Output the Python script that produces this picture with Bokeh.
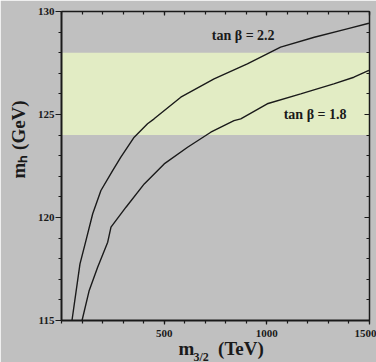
from bokeh.plotting import figure
from bokeh.models import (Range1d, FixedTicker, LinearAxis, BoxAnnotation, Label, Title)
from bokeh.embed import file_html
from bokeh.resources import INLINE

# ---- data ----
x_tb22 = [51, 90, 119, 152, 192, 249, 289, 354, 419, 451, 581, 743, 905, 1067, 1231, 1391, 1497]
y_tb22 = [115.0, 117.75, 118.88, 120.18, 121.31, 122.28, 122.93, 123.9, 124.55, 124.79,
          125.84, 126.73, 127.46, 128.27, 128.75, 129.16, 129.43]
x_tb18 = [100, 135, 176, 225, 241, 314, 403, 500, 614, 727, 840, 873, 1002, 1165, 1326, 1424, 1497]
y_tb18 = [115.0, 116.46, 117.59, 118.8, 119.53, 120.5, 121.63, 122.6, 123.41, 124.14,
          124.7, 124.79, 125.52, 126.0, 126.49, 126.81, 127.14]
band_low, band_high = 124, 128
x_major = [500, 1000, 1500]
x_minor = list(range(0, 1501, 100))
y_major = [115, 120, 125, 130]
y_minor = list(range(115, 131, 1))
NB = "\u00a0"
x_title_main = "m" + NB * 5 + "(TeV)"
x_title_sub = "3/2"
y_title = "m\u2095 (GeV)"

BG = "#c0c0c0"
BAND = "#e2ecc4"
FONT = "Liberation Serif"
INK = "#1a1a1a"

p = figure(width=376, height=362, output_backend="svg", toolbar_location=None,
           x_range=Range1d(0, 1500), y_range=Range1d(115, 130),
           min_border_left=61, min_border_right=7, min_border_top=11, min_border_bottom=42,
           background_fill_color=BG, border_fill_color=BG, outline_line_color=None)
p.grid.visible = False

p.add_layout(BoxAnnotation(bottom=band_low, top=band_high, fill_color=BAND, fill_alpha=1.0,
                           line_color=None, level="underlay"))

p.line(x_tb22, y_tb22, line_color=INK, line_width=1.4)
p.line(x_tb18, y_tb18, line_color=INK, line_width=1.4)

def style(ax, major_in, major_out, minor_in, minor_out, lw, show_labels):
    ax.axis_line_color = INK
    ax.axis_line_width = lw
    ax.major_tick_in = major_in
    ax.major_tick_out = major_out
    ax.minor_tick_in = minor_in
    ax.minor_tick_out = minor_out
    ax.major_tick_line_color = INK
    ax.minor_tick_line_color = INK
    ax.major_tick_line_width = 1.2
    ax.minor_tick_line_width = 1.2
    if show_labels:
        ax.major_label_text_font = FONT
        ax.major_label_text_font_style = "bold"
        ax.major_label_text_font_size = "11px"
        ax.major_label_text_color = INK
    else:
        ax.major_label_overrides = {t: "" for t in ax.ticker.ticks}
        ax.major_label_standoff = 0

xb = p.xaxis[0]
xb.ticker = FixedTicker(ticks=x_major, minor_ticks=x_minor)
style(xb, 0, 4, 0, 3, 2, True)
xb.major_label_standoff = 5

yl = p.yaxis[0]
yl.ticker = FixedTicker(ticks=y_major, minor_ticks=y_minor)
style(yl, 0, 6, 0, 3, 2, True)
yl.major_label_standoff = 1

xt = LinearAxis(ticker=FixedTicker(ticks=x_major, minor_ticks=x_minor))
style(xt, 4, 0, 3, 0, 1.5, False)
p.add_layout(xt, "above")

yr = LinearAxis(ticker=FixedTicker(ticks=y_major, minor_ticks=y_minor))
style(yr, 5, 0, 3, 0, 1.5, False)
p.add_layout(yr, "right")

# axis titles as panel titles (not clipped by the frame)
tA = Title(text=x_title_main, align="left", offset=117, standoff=-8, text_font=FONT,
           text_font_style="bold", text_font_size="19px", text_color=INK)
p.add_layout(tA, "below")
tB = Title(text=x_title_sub, align="left", offset=132, standoff=-18, text_font=FONT,
           text_font_style="bold", text_font_size="12px", text_color=INK)
p.add_layout(tB, "below")
ty = Title(text=y_title, align="left", offset=142, standoff=7, vertical_align="top",
           text_font=FONT, text_font_style="bold", text_font_size="19px", text_color=INK)
p.add_layout(ty, "left")

def lab(x, y, text, size, **kw):
    p.add_layout(Label(x=x, y=y, text=text, text_font=FONT, text_font_style="bold",
                       text_font_size=size, text_color=INK, **kw))

# curve annotations
lab(885, 128.83, "tan \u03b2 = 2.2", "14px", text_align="center", text_baseline="middle")
lab(1235, 125.0, "tan \u03b2 = 1.8", "14px", text_align="center", text_baseline="middle")

open("out.html", "w").write(file_html(p, INLINE))
